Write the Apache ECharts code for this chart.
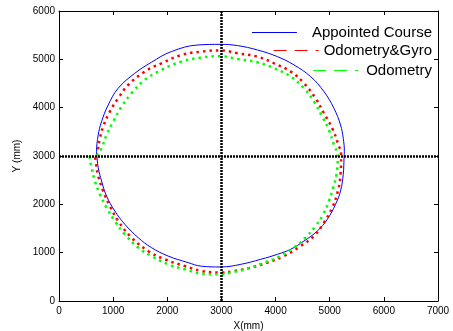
<!DOCTYPE html>
<html>
<head>
<meta charset="utf-8">
<script src="https://cdn.jsdelivr.net/npm/echarts@6/dist/echarts.min.js"></script>
<style>html,body{margin:0;padding:0;background:#fff}#c{width:453px;height:331px}</style>
</head>
<body>
<div id="c"></div>
<script>
var seriesNames = ['Appointed Course', 'Odometry&Gyro', 'Odometry'];
var xTicks = [0, 7000, 1000];
var yTicks = [0, 6000, 1000];
var crossX = 3000;
var crossY = 3000;

var appointedCourse = [[700,3000],[694,3091],[724,3435],[786,3711],[908,4055],[1093,4401],[1400,4711],[1707,4939],[2075,5160],[2566,5297],[2990,5310],[3297,5284],[3665,5194],[4034,5056],[4341,4884],[4647,4643],[4894,4332],[5078,3987],[5200,3642],[5250,3366],[5270,3091],[5265,2967],[5250,2622],[5200,2276],[5108,2001],[4955,1690],[4771,1448],[4525,1241],[4279,1070],[4034,966],[3727,863],[3359,759],[2990,704],[2628,720],[2382,795],[2014,931],[1707,1105],[1461,1312],[1216,1587],[1031,1862],[878,2173],[786,2483],[724,2760],[700,3000]];

var odometryGyro = [[700,3000],[712,3091],[755,3366],[816,3608],[939,3918],[1093,4194],[1277,4469],[1584,4746],[1892,4918],[2260,5090],[2628,5160],[2990,5185],[3297,5125],[3665,5056],[3973,4918],[4279,4746],[4525,4504],[4739,4194],[4894,3884],[5047,3573],[5151,3263],[5210,3021],[5210,2967],[5200,2622],[5151,2276],[5047,1932],[4894,1622],[4710,1345],[4464,1138],[4157,931],[3850,795],[3543,691],[3236,621],[2990,588],[2628,621],[2321,724],[1952,863],[1645,1035],[1339,1312],[1093,1655],[939,1966],[816,2276],[724,2586],[681,2864],[665,3000]];

var odometry = [[700,3000],[786,3159],[878,3435],[1000,3711],[1155,4022],[1339,4298],[1584,4573],[1892,4780],[2260,4953],[2628,5036],[2990,5065],[3297,5007],[3665,4939],[3973,4815],[4279,4643],[4525,4401],[4710,4125],[4863,3815],[4986,3538],[5078,3228],[5148,3021],[5148,2967],[5126,2622],[5065,2346],[4986,2069],[4881,1794],[4739,1552],[4555,1312],[4341,1105],[4095,931],[3789,795],[3481,670],[3174,588],[2960,552],[2628,567],[2321,656],[2014,759],[1707,931],[1461,1105],[1216,1380],[1031,1655],[878,1932],[755,2208],[663,2483],[602,2760],[571,2932],[568,3010]];

var chart = echarts.init(document.getElementById('c'), null, {renderer: 'canvas'});
var font = 'Liberation Sans, Arial, sans-serif';
function plain(v) { return String(v); }
function xAx(pos, labels) {
  return {
    type: 'value', position: pos, min: xTicks[0], max: xTicks[1], interval: xTicks[2],
    axisLine: {show: true, onZero: false, lineStyle: {color: '#000', width: 1}},
    axisTick: {show: true, inside: true, length: 4, lineStyle: {color: '#000'}},
    axisLabel: {show: labels, color: '#000', fontSize: 10, fontFamily: font, margin: 5, formatter: plain},
    splitLine: {show: false},
    name: labels ? 'X(mm)' : '', nameLocation: 'middle', nameGap: 18,
    nameTextStyle: {color: '#000', fontSize: 10, fontFamily: font}
  };
}
function yAx(pos, labels) {
  return {
    type: 'value', position: pos, min: yTicks[0], max: yTicks[1], interval: yTicks[2],
    axisLine: {show: true, onZero: false, lineStyle: {color: '#000', width: 1}},
    axisTick: {show: true, inside: true, length: 4, lineStyle: {color: '#000'}},
    axisLabel: {show: labels, color: '#000', fontSize: 10, fontFamily: font, margin: 4, formatter: plain},
    splitLine: {show: false},
    name: labels ? 'Y (mm)' : '', nameLocation: 'middle', nameGap: 30,
    nameTextStyle: {color: '#000', fontSize: 10, fontFamily: font}
  };
}
function leg(name, top, pad, lineType) {
  return {
    data: [name], right: 16, top: top, itemWidth: 45, itemHeight: 14,
    selectedMode: false, padding: 5,
    itemStyle: {color: 'rgba(0,0,0,0)', opacity: 0, borderWidth: 0},
    lineStyle: {type: lineType, width: 1, opacity: 1},
    textStyle: {fontSize: 15, fontFamily: font, color: '#000', padding: [0, 0, 0, pad]}
  };
}
chart.setOption({
  animation: false,
  backgroundColor: '#fff',
  grid: {left: 59, right: 15, top: 11, bottom: 30, containLabel: false, outerBoundsMode: 'none'},
  xAxis: [xAx('bottom', true), xAx('top', false)],
  yAxis: [yAx('left', true), yAx('right', false)],
  legend: [
    leg(seriesNames[0], 20, 10, 'solid'),
    leg(seriesNames[1], 38, 0, [13, 8]),
    leg(seriesNames[2], 58, 3, [13, 8])
  ],
  series: [
    {
      name: seriesNames[0], type: 'line', data: appointedCourse, smooth: 0.4,
      symbol: 'none', showSymbol: false, color: '#0000ff',
      lineStyle: {color: '#0000ff', width: 1}, z: 3,
      markLine: {
        silent: true, symbol: 'none', animation: false,
        label: {show: false},
        lineStyle: {color: '#000', type: [2, 1], width: 2.5},
        data: [{xAxis: crossX}, {yAxis: crossY}]
      }
    },
    {
      name: seriesNames[1], type: 'line', data: odometryGyro, smooth: 0.4,
      symbol: 'none', showSymbol: false, color: '#ff0000',
      lineStyle: {color: '#ff0000', width: 2.5, type: [2.5, 4]}, z: 4
    },
    {
      name: seriesNames[2], type: 'line', data: odometry, smooth: 0.4,
      symbol: 'none', showSymbol: false, color: '#00ff00',
      lineStyle: {color: '#00ff00', width: 2.5, type: [2.5, 4]}, z: 4
    }
  ]
});
</script>
</body>
</html>
